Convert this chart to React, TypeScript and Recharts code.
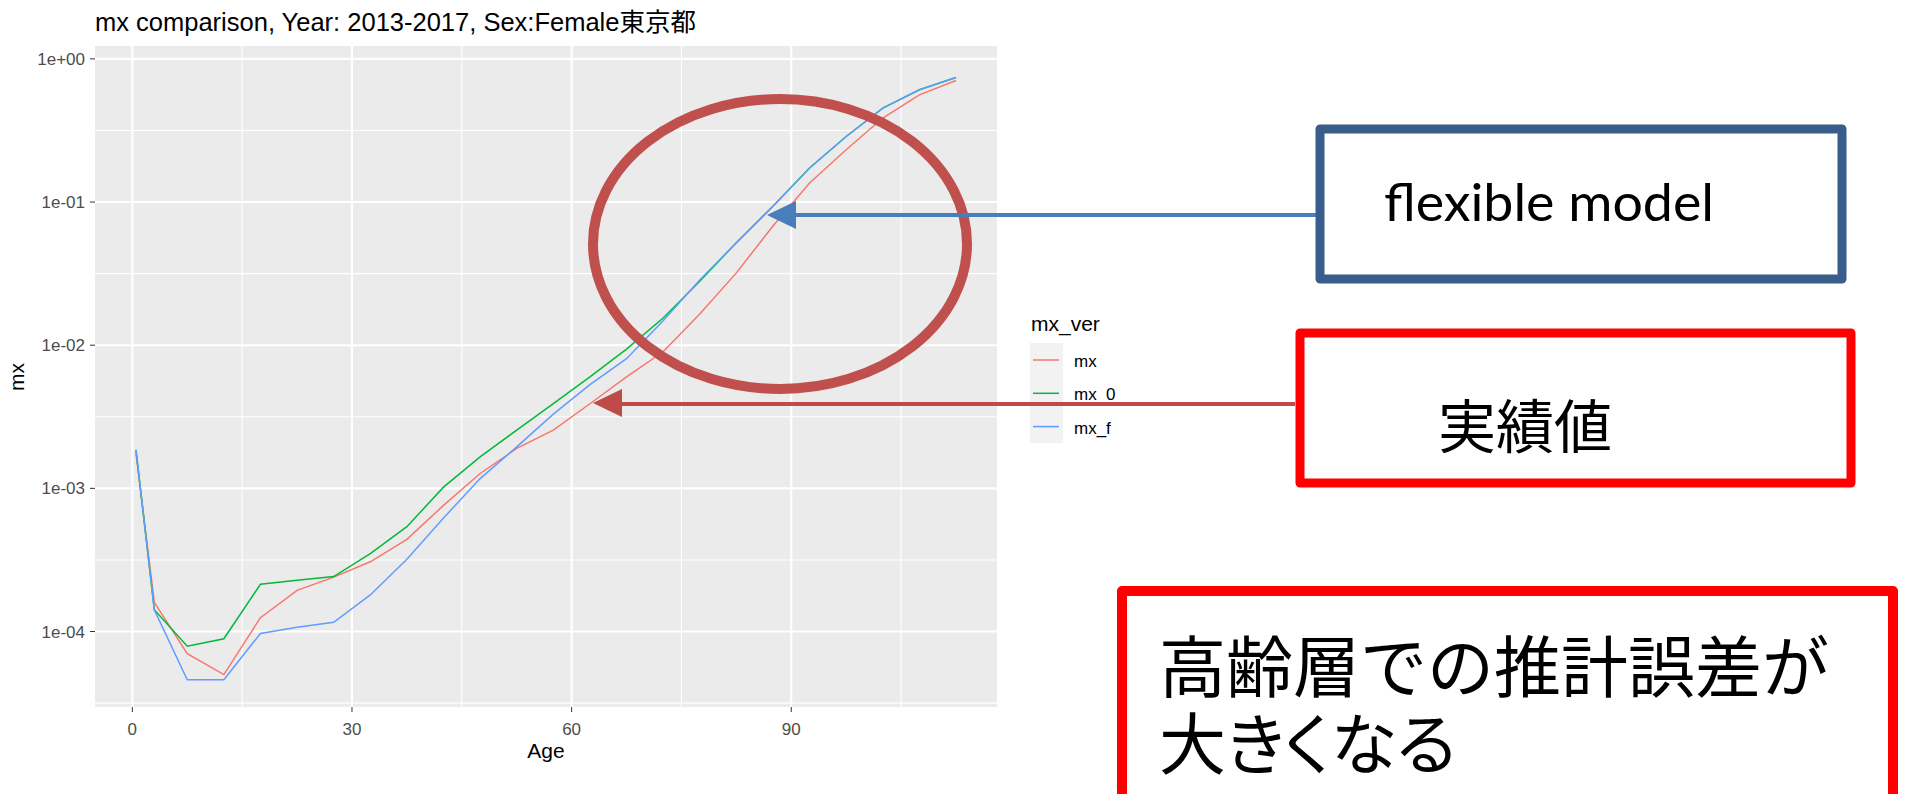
import { CartesianGrid, Line, LineChart, XAxis, YAxis } from "recharts";

// ages are 5-year group midpoints (0 and 1-4 split)
const ages = [0.5, 3, 7.5, 12.5, 17.5, 22.5, 27.5, 32.5, 37.5, 42.5, 47.5, 52.5, 57.5, 62.5, 67.5, 72.5, 77.5, 82.5, 87.5, 92.5, 97.5, 102.5, 107.5, 112.5];
const mx = [1.75e-3, 1.6e-4, 7.0e-5, 5.0e-5, 1.25e-4, 1.94e-4, 2.4e-4, 3.07e-4, 4.4e-4, 7.6e-4, 1.27e-3, 1.9e-3, 2.55e-3, 3.9e-3, 6.0e-3, 9.0e-3, 1.65e-2, 3.2e-2, 6.8e-2, 0.136, 0.232, 0.386, 0.561, 0.706];
const mx0 = [1.85e-3, 1.42e-4, 7.9e-5, 8.9e-5, 2.14e-4, 2.28e-4, 2.42e-4, 3.5e-4, 5.4e-4, 1.02e-3, 1.66e-3, 2.55e-3, 3.91e-3, 6.0e-3, 9.4e-3, 1.55e-2, 2.8e-2, 5.2e-2, 9.35e-2, 0.173, 0.287, 0.453, 0.608, 0.741];
const mxF = [1.86e-3, 1.42e-4, 4.6e-5, 4.6e-5, 9.7e-5, 1.07e-4, 1.16e-4, 1.8e-4, 3.2e-4, 6.2e-4, 1.17e-3, 1.95e-3, 3.3e-3, 5.3e-3, 8.05e-3, 1.48e-2, 2.85e-2, 5.2e-2, 9.35e-2, 0.173, 0.287, 0.453, 0.608, 0.741];

const series = [
  { key: "mx", color: "#F8766D", values: mx },
  { key: "mx_0", color: "#00BA38", values: mx0 },
  { key: "mx_f", color: "#619CFF", values: mxF },
];

const xTicks = [0, 30, 60, 90];
const xMinor = [15, 45, 75, 105];
const yTicks = [1e-4, 1e-3, 1e-2, 1e-1, 1];
const yMinor = [3.162e-5, 3.162e-4, 3.162e-3, 3.162e-2, 0.3162];
const xDomain: [number, number] = [-5.1, 118.1];
const yDomain: [number, number] = [2.97e-5, 1.23];

const TITLE = "mx comparison, Year: 2013-2017, Sex:Female東京都";
const FONT = "'Liberation Sans', Arial, 'Noto Sans CJK JP', sans-serif";
const CJK = "'Noto Sans CJK JP', sans-serif";

const sciLabel = (v: number) => {
  const e = Math.round(Math.log10(v));
  return `1e${e < 0 ? "-" : "+"}${String(Math.abs(e)).padStart(2, "0")}`;
};

export default function App() {
  const rows = ages.map((age, i) => {
    const r: Record<string, number> = { age };
    series.forEach((s) => (r[s.key] = s.values[i]));
    return r;
  });

  return (
    <div style={{ position: "absolute", left: 0, top: 0, width: 1905, height: 794, background: "#fff", overflow: "hidden" }}>
      <LineChart width={1010} height={794} data={rows} margin={{ top: 46, right: 13, bottom: 0, left: 0 }}>
        <CartesianGrid fill="#EBEBEB" stroke="#FFFFFF" strokeWidth={1.1} horizontalValues={yMinor} verticalValues={xMinor} />
        <CartesianGrid stroke="#FFFFFF" strokeWidth={2.1} horizontalValues={yTicks} verticalValues={xTicks} />
        <XAxis
          dataKey="age"
          type="number"
          domain={xDomain}
          ticks={xTicks}
          allowDataOverflow
          height={87}
          tickSize={5}
          tickMargin={11}
          axisLine={false}
          tickLine={{ stroke: "#333333" }}
          tick={{ fill: "#4D4D4D", fontSize: 17, fontFamily: FONT }}
        />
        <YAxis
          type="number"
          scale="log"
          domain={yDomain}
          ticks={yTicks}
          allowDataOverflow
          width={95}
          tickSize={5}
          tickMargin={5}
          axisLine={false}
          tickLine={{ stroke: "#333333" }}
          tickFormatter={sciLabel}
          tick={{ fill: "#4D4D4D", fontSize: 17, fontFamily: FONT }}
        />
        {series.map((s) => (
          <Line
            key={s.key}
            dataKey={s.key}
            type="linear"
            stroke={s.color}
            strokeWidth={1.5}
            dot={false}
            isAnimationActive={false}
          />
        ))}
      </LineChart>

      <svg width={1905} height={794} style={{ position: "absolute", left: 0, top: 0, pointerEvents: "none" }}>
        {/* plot texts */}
        <text x={95} y={31} fontSize={25.5} fontFamily={FONT} fill="#000">{TITLE}</text>
        <text x={546} y={758} fontSize={21} fontFamily={FONT} textAnchor="middle" fill="#000">Age</text>
        <text transform="translate(24,377) rotate(-90)" fontSize={21} fontFamily={FONT} textAnchor="middle" fill="#000">mx</text>

        {/* legend */}
        <text x={1031} y={331} fontSize={21} fontFamily={FONT} fill="#000">mx_ver</text>
        <rect x={1030} y={343} width={33} height={100} fill="#F2F2F2" />
        {series.map((s, i) => (
          <g key={s.key}>
            <line x1={1033} x2={1059} y1={360 + i * 33.3} y2={360 + i * 33.3} stroke={s.color} strokeWidth={1.5} />
            <text x={1074} y={367 + i * 33.3} fontSize={17} fontFamily={FONT} fill="#000">{s.key}</text>
          </g>
        ))}

        {/* annotations */}
        <ellipse cx={780} cy={244} rx={187} ry={145} fill="none" stroke="#C0504D" strokeWidth={10} />

        <line x1={794} x2={1316} y1={215} y2={215} stroke="#4A7EBB" strokeWidth={4} />
        <polygon points="767,215 796,201 796,229" fill="#4A7EBB" />
        <line x1={620} x2={1295} y1={404} y2={404} stroke="#BE4B48" strokeWidth={4} />
        <polygon points="593,403 622,389 622,417" fill="#BE4B48" />

        <rect x={1320} y={129} width={522} height={150} fill="#fff" stroke="#385D8A" strokeWidth={9} strokeLinejoin="round" />
        <text x={1384} y={221} fontSize={52} fontFamily="Lato, 'Open Sans', sans-serif" textLength={330} lengthAdjust="spacingAndGlyphs" fill="#000">flexible model</text>

        <rect x={1300} y={333} width={551} height={150} fill="#fff" stroke="#FF0000" strokeWidth={9} strokeLinejoin="round" />
        <text x={1438} y={423} fontSize={58} fontFamily={CJK} dominantBaseline="central" fill="#000">実績値</text>

        <rect x={1122} y={591} width={771} height={260} fill="#fff" stroke="#FF0000" strokeWidth={10} strokeLinejoin="round" />
        <text fontSize={67} fontFamily={CJK} dominantBaseline="central" fill="#000">
          <tspan x={1159} y={662}>高齢層での推計誤差が</tspan>
          <tspan x={1159} y={739} style={{ fontFeatureSettings: '"palt"' }}>大きくなる</tspan>
        </text>
      </svg>
    </div>
  );
}
